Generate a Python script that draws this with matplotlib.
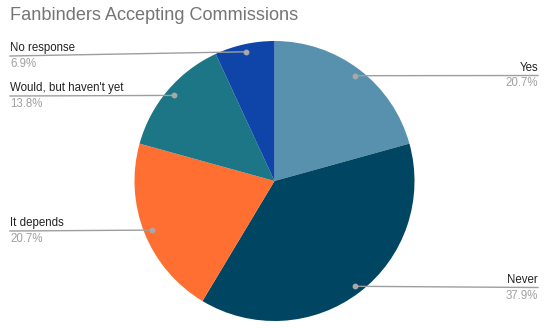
import matplotlib
matplotlib.use("Agg")
import matplotlib.pyplot as plt
import numpy as np

categories = ["Yes", "Never", "It depends", "Would, but haven't yet", "No response"]
values = [20.7, 37.9, 20.7, 13.8, 6.9]
colors = ["#5891ad", "#004561", "#ff6f31", "#1c7685", "#0f45a8"]

W, H = 550, 328
plt.rcParams['font.family'] = ['Liberation Sans', 'DejaVu Sans']
fig = plt.figure(figsize=(W / 100, H / 100), dpi=100)

def fx(x):
    return x / W

def fy(y):
    return 1 - y / H

cx, cy, r = 274.5, 181, 140
ax = fig.add_axes([fx(cx - r), fy(cy + r), 2 * r / W, 2 * r / H])
wedges, _ = ax.pie(values, colors=colors, startangle=90, counterclock=False,
                   radius=1, wedgeprops=dict(edgecolor='none', linewidth=0))
ax.set_xlim(-1, 1)
ax.set_ylim(-1, 1)
ax.set_aspect('equal')
ax.axis('off')

fig.text(fx(10), fy(15), "Fanbinders Accepting Commissions", fontsize=13.1,
         color="#757575", ha='left', va='center')

# label layout: (side, text y, line y, pct y)
layout = {
    "Yes": ('right', 68, 75.5, 83),
    "Never": ('right', 280, 287.5, 296),
    "It depends": ('left', 223, 231, 239),
    "Would, but haven't yet": ('left', 87.5, 96, 104),
    "No response": ('left', 47.5, 56, 64),
}

inv = fig.transFigure.inverted()
for w, cat, val in zip(wedges, categories, values):
    mid = np.deg2rad((w.theta1 + w.theta2) / 2)
    dxy = ax.transData.transform((0.945 * np.cos(mid), 0.945 * np.sin(mid)))
    dfx, dfy = inv.transform(dxy)
    side, ty, ly, py = layout[cat]
    if side == 'right':
        xe, ha = fx(538), 'right'
    else:
        xe, ha = fx(10), 'left'
    fig.add_artist(plt.Line2D([dfx, xe], [dfy, fy(ly)], color="#9e9e9e",
                              linewidth=1.0, transform=fig.transFigure))
    fig.add_artist(plt.Line2D([dfx], [dfy], marker='o', markersize=3.2,
                              color="#a8a8a8", linestyle='none',
                              transform=fig.transFigure))
    fig.text(xe, fy(ty), cat, fontsize=8.3, color="#222222", ha=ha, va='center')
    fig.text(xe, fy(py), f"{val:.1f}%", fontsize=8.3, color="#a0a0a0",
             ha=ha, va='center')

fig.savefig("out.png", dpi=100)
